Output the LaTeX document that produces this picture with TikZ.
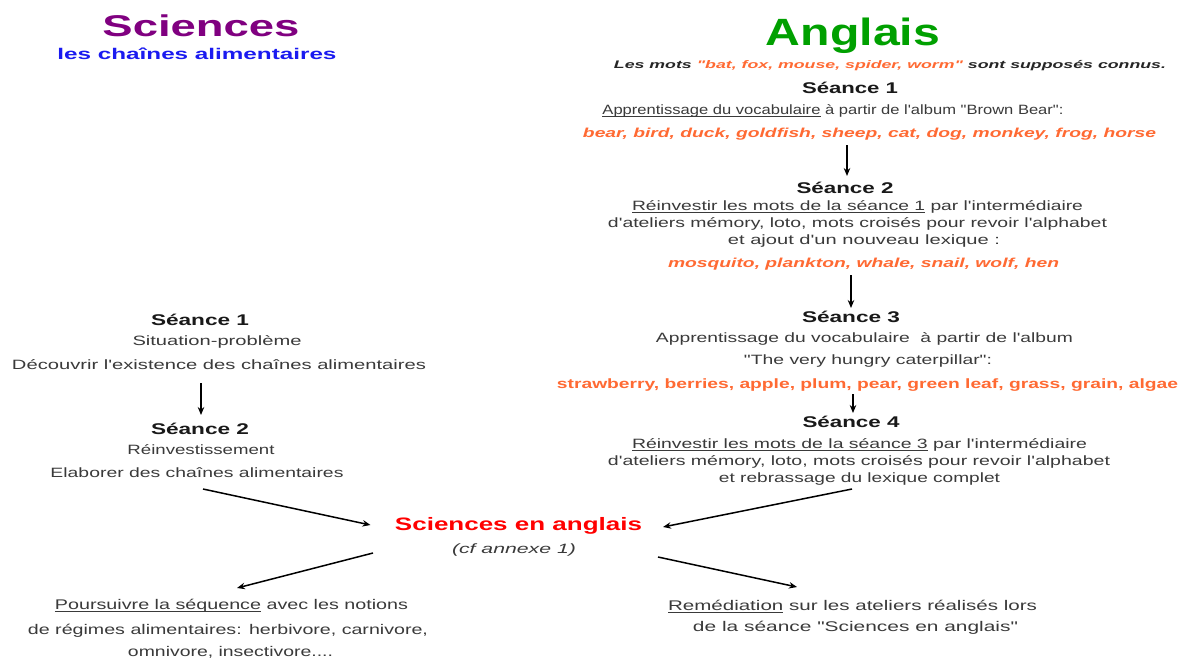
\documentclass[tikz,border=0pt]{standalone}
\usepackage{fontspec}
\setmainfont{Liberation Sans}[Ligatures=TeXOff]
\usepackage{graphicx}
\usetikzlibrary{arrows.meta,calc}
\definecolor{purp}{HTML}{800080}
\definecolor{blu}{HTML}{1A1AF0}
\definecolor{grn}{HTML}{00A000}
\definecolor{org}{HTML}{FF6A33}
\definecolor{redc}{HTML}{FF0000}
\definecolor{txt}{HTML}{3A3A3A}
\newcommand\W[2]{\resizebox{#1pt}{\height}{#2}}
\newcommand\ul[1]{\setbox0\hbox{#1}\rlap{\rule[-2.2pt]{\wd0}{0.7pt}}\box0\relax}
\tikzset{
  every node/.style={inner sep=0pt, outer sep=0pt, anchor=base},
  body/.style={font=\fontsize{13.5}{16}\selectfont, text=txt},
  seance/.style={font=\fontsize{15.5}{18}\selectfont\bfseries, text=black!90},
  orng/.style={font=\fontsize{13}{16}\selectfont\bfseries\itshape, text=org},
  orngup/.style={font=\fontsize{13.5}{16}\selectfont\bfseries, text=org},
  narrowtxt/.style={font=\fontsize{14}{17}\selectfont, text=txt},
  arr/.style={-{Stealth[length=8pt,width=6.5pt]}, line width=1.5pt, black}
}
\begin{document}
\begin{tikzpicture}[x=1pt,y=-1pt]
\fill[white] (0,0) rectangle (1181,657);
\useasboundingbox (0,0) rectangle (1181,657);
% ---------- left: Sciences ----------
\node[font=\fontsize{30}{34}\selectfont\bfseries, text=purp] (sciT) at (201,36) {\W{197}{Sciences}};
\node[font=\fontsize{15.5}{18}\selectfont\bfseries, text=blu] (sciS) at (197,59) {\W{279}{les chaînes alimentaires}};
\node[seance] (lS1) at (200,325) {\W{98}{Séance 1}};
\node[body] (lSit) at (217,345) {\W{169}{Situation-problème}};
\node[body] (lDec) at (219,369) {\W{414}{Découvrir l'existence des chaînes alimentaires}};
\node[seance] (lS2) at (200,434) {\W{98}{Séance 2}};
\node[body] (lRei) at (201,454) {\W{147}{Réinvestissement}};
\node[body] (lEla) at (197,477) {\W{293}{Elaborer des chaînes alimentaires}};
% ---------- right: Anglais ----------
\node[font=\fontsize{38}{42}\selectfont\bfseries, text=grn] (angT) at (853,45) {\W{174}{Anglais}};
\node[font=\fontsize{11}{13}\selectfont\bfseries\itshape, text=black!85] (rMots) at (890,68)
  {\W{552}{Les mots \textcolor{org}{"bat, fox, mouse, spider, worm"} sont supposés connus.}};
\node[seance] (rS1) at (850,93) {\W{96}{Séance 1}};
\node[body] (rApp) at (833,114) {\W{461}{\ul{Apprentissage du vocabulaire} à partir de l'album "Brown Bear":}};
\node[orng] (rBear) at (869.5,137) {\W{573}{bear, bird, duck, goldfish, sheep, cat, dog, monkey, frog, horse}};
\node[seance] (rS2) at (845,193) {\W{97}{Séance 2}};
\node[body] (r2a) at (857.5,210) {\W{451}{\ul{Réinvestir les mots de la séance 1} par l'intermédiaire}};
\node[body] (r2b) at (857.5,227) {\W{499}{d'ateliers mémory, loto, mots croisés pour revoir l'alphabet}};
\node[body] (r2c) at (864,244) {\W{272}{et ajout d'un nouveau lexique :}};
\node[orng] (rMos) at (863.5,267) {\W{391}{mosquito, plankton, whale, snail, wolf, hen}};
\node[seance] (rS3) at (851,322) {\W{98}{Séance 3}};
\node[body] (r3a) at (864.5,342) {\W{417}{Apprentissage du vocabulaire\ \ à partir de l'album}};
\node[body] (r3b) at (868,364) {\W{248}{"The very hungry caterpillar":}};
\node[orngup] (rStr) at (867.5,388) {\W{621}{strawberry, berries, apple, plum, pear, green leaf, grass, grain, algae}};
\node[seance] (rS4) at (851,427) {\W{97}{Séance 4}};
\node[body] (r4a) at (859.5,448) {\W{455}{\ul{Réinvestir les mots de la séance 3} par l'intermédiaire}};
\node[body] (r4b) at (859,465) {\W{502}{d'ateliers mémory, loto, mots croisés pour revoir l'alphabet}};
\node[body] (r4c) at (859.5,482) {\W{281}{et rebrassage du lexique complet}};
% ---------- centre ----------
\node[font=\fontsize{18}{21}\selectfont\bfseries, text=redc] (sea) at (518.5,530) {\W{247}{Sciences en anglais}};
\node[font=\fontsize{13.5}{16}\selectfont\itshape, text=txt] (cf) at (514,553) {\W{124}{(cf annexe 1)}};
% ---------- bottom ----------
\node[narrowtxt] (bPo) at (231.5,609) {\W{353}{\ul{Poursuivre la séquence} avec les notions}};
\node[narrowtxt] (bDe) at (228,634) {\W{400}{de régimes alimentaires: herbivore, carnivore,}};
\node[narrowtxt] (bOm) at (230.5,656) {\W{205}{omnivore, insectivore....}};
\node[narrowtxt] (bRe) at (852.5,610) {\W{369}{\ul{Remédiation} sur les ateliers réalisés lors}};
\node[narrowtxt] (bSc) at (855.5,631) {\W{325}{de la séance "Sciences en anglais"}};
% ---------- connectors ----------
\draw[arr] ($(lDec.base -| lS1.base)+(1,14)$) -- ($(lS2.base)+(1,-19)$);
\draw[arr] ($(lEla.base)+(6,12)$) -- ($(sea.base)+(-148,-5)$);
\draw[arr] ($(rBear.base -| rS2.base)+(2,8)$) -- ($(rS2.base)+(2,-17)$);
\draw[arr] ($(rMos.base -| rS3.base)+(0,8)$) -- ($(rS3.base)+(0,-14)$);
\draw[arr] ($(rStr.base -| rS4.base)+(2,6)$) -- ($(rS4.base)+(2,-14)$);
\draw[arr] ($(r4c.base)+(-7.5,7)$) -- ($(sea.base)+(144.5,-3)$);
\draw[arr] ($(sea.base)+(-145.5,23)$) -- ($(bPo.base)+(5.5,-21)$);
\draw[arr] ($(sea.base)+(139.5,27)$) -- ($(bRe.base)+(-55.5,-23)$);
\end{tikzpicture}
\end{document}
